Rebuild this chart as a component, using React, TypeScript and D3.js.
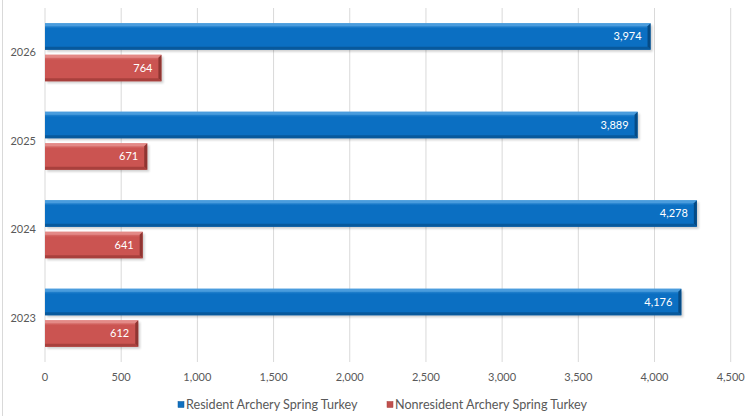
import React from "react";
import * as d3 from "d3";

const categories = ["2026", "2025", "2024", "2023"];
const seriesNames = ["Resident Archery Spring Turkey", "Nonresident Archery Spring Turkey"];
const residentValues = [3974, 3889, 4278, 4176];
const nonresidentValues = [764, 671, 641, 612];
const xTicks = [0, 500, 1000, 1500, 2000, 2500, 3000, 3500, 4000, 4500];

const W = 746;
const H = 416;
const FONT = "Lato, 'Open Sans', sans-serif";

const palettes = [
  { id: "blue", top: "#4A9CDD", main: "#0B6FC2", dark: "#08599C", edge: "#064B85", swatch: "#1070C0" },
  { id: "red", top: "#E38A87", main: "#CB5451", dark: "#A8403D", edge: "#8F3532", swatch: "#C0504D" },
];

export default function App() {
  const x = d3.scaleLinear().domain([0, 4500]).range([45, 730.7]);
  const y = d3.scaleBand<string>().domain(categories).range([8, 362]).paddingInner(0).paddingOuter(0);
  const sub = d3
    .scaleBand<string>()
    .domain(seriesNames)
    .range([0, y.bandwidth()])
    .paddingInner(0.159)
    .paddingOuter(0.484);
  const fmt = d3.format(",");
  const seriesValues = [residentValues, nonresidentValues];

  const bars: React.ReactNode[] = [];
  categories.forEach((c, ci) => {
    seriesNames.forEach((s, si) => {
      const v = seriesValues[si][ci];
      const p = palettes[si];
      const x0 = x(0);
      const x1 = x(v);
      const y0 = (y(c) as number) + (sub(s) as number);
      const h = sub.bandwidth();
      const y1 = y0 + h;
      const b = 3;
      bars.push(
        <g key={c + s}>
          <rect x={x0 + 2} y={y0 + 2} width={x1 - x0} height={h} fill="#000" opacity={0.18} filter="url(#shadow)" />
          <rect x={x0} y={y0} width={x1 - x0} height={h} fill={`url(#grad-${p.id})`} />
          <polygon points={`${x0},${y0} ${x1},${y0} ${x1 - b},${y0 + b} ${x0},${y0 + b}`} fill={p.top} />
          <polygon points={`${x1},${y0} ${x1},${y1} ${x1 - b},${y1 - b} ${x1 - b},${y0 + b}`} fill={p.edge} />
          <polygon points={`${x0},${y1} ${x1},${y1} ${x1 - b},${y1 - b} ${x0},${y1 - b}`} fill={p.dark} />
          <text
            x={x1 - 9}
            y={y0 + h / 2}
            dy="0.35em"
            textAnchor="end"
            fill="#fff"
            fontSize={11}
            fontFamily={FONT}
          >
            {fmt(v)}
          </text>
        </g>
      );
    });
  });

  return (
    <svg width={W} height={H} style={{ position: "absolute", left: 0, top: 0, background: "#fff" }}>
      <defs>
        <filter id="shadow" x="-10%" y="-50%" width="120%" height="200%">
          <feGaussianBlur stdDeviation="1.2" />
        </filter>
        {palettes.map((p) => (
          <linearGradient key={p.id} id={`grad-${p.id}`} x1="0" y1="0" x2="0" y2="1">
            <stop offset="0%" stopColor={p.top} />
            <stop offset="20%" stopColor={p.main} />
            <stop offset="100%" stopColor={p.main} />
          </linearGradient>
        ))}
      </defs>
      <rect x={0} y={0} width={W} height={H} fill="#fff" />
      <line x1={2.5} x2={2.5} y1={0} y2={H} stroke="#d9d9d9" />
      {xTicks.map((t) => (
        <g key={t}>
          <line x1={x(t)} x2={x(t)} y1={8} y2={362} stroke="#d9d9d9" strokeWidth={1} />
          <text x={x(t)} y={377} dy="0.35em" textAnchor="middle" fill="#595959" fontSize={11} fontFamily={FONT}>
            {fmt(t)}
          </text>
        </g>
      ))}
      {categories.map((c) => (
        <text
          key={c}
          x={36}
          y={(y(c) as number) + y.bandwidth() / 2}
          dy="0.35em"
          textAnchor="end"
          fill="#595959"
          fontSize={11}
          fontFamily={FONT}
        >
          {c}
        </text>
      ))}
      {bars}
      <g>
        {seriesNames.map((s, i) => {
          const lx = i === 0 ? 178 : 387;
          const p = palettes[i];
          return (
            <g key={s}>
              <rect x={lx} y={401.5} width={6} height={6} fill={p.swatch} stroke={p.dark} strokeWidth={0.5} />
              <text x={lx + 8} y={404.5} dy="0.35em" fill="#595959" fontSize={12.6} fontFamily={FONT}>
                {s}
              </text>
            </g>
          );
        })}
      </g>
    </svg>
  );
}
